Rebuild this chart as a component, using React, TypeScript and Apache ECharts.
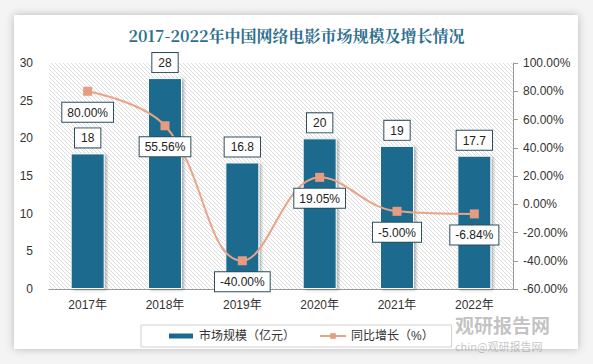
import React, { useEffect, useRef } from "react";
import * as echarts from "echarts";

const years = ["2017年", "2018年", "2019年", "2020年", "2021年", "2022年"];
const marketSize = [18, 28, 16.8, 20, 19, 17.7];
const growth = [80.0, 55.56, -40.0, 19.05, -5.0, -6.84];
const titleText = "2017-2022年中国网络电影市场规模及增长情况";
const seriesNames = ["市场规模（亿元）", "同比增长（%）"];

function makeHatch(): HTMLCanvasElement {
  const c = document.createElement("canvas");
  const s = 4;
  c.width = s;
  c.height = s;
  const ctx = c.getContext("2d")!;
  ctx.fillStyle = "#ffffff";
  ctx.fillRect(0, 0, s, s);
  ctx.strokeStyle = "#dcdcdc";
  ctx.lineWidth = 1;
  ctx.beginPath();
  ctx.moveTo(0, 0);
  ctx.lineTo(s, s);
  ctx.moveTo(-s / 2, s / 2);
  ctx.lineTo(s / 2, s * 1.5);
  ctx.moveTo(s / 2, -s / 2);
  ctx.lineTo(s * 1.5, s / 2);
  ctx.stroke();
  return c;
}

export default function App() {
  const ref = useRef<HTMLDivElement>(null);
  useEffect(() => {
    if (!ref.current) return;
    const chart = echarts.init(ref.current, null, { renderer: "svg" });
    const font = "'Liberation Sans', 'Noto Sans CJK SC', sans-serif";
    chart.setOption({
      animation: false,
      backgroundColor: "#f4f4f4",
      graphic: [
        {
          type: "rect",
          shape: { x: 14, y: 15, width: 564, height: 334 },
          style: { fill: "#ffffff", shadowBlur: 8, shadowColor: "rgba(0,0,0,0.25)" },
          z: -10,
        },
        {
          type: "text",
          left: 455,
          top: 315,
          style: { text: "观研报告网", fill: "rgba(120,120,120,0.45)", font: "bold 19px 'Noto Sans CJK SC'" },
          z: 100,
        },
        {
          type: "text",
          left: 455,
          top: 340,
          style: { text: "chin@观研报告网", fill: "rgba(140,140,140,0.5)", font: "11px 'Noto Sans CJK SC'" },
          z: 100,
        },
      ],
      title: {
        text: titleText,
        left: "center",
        top: 22,
        textStyle: {
          color: "#2E6F8E",
          fontSize: 16,
          fontWeight: "bold",
          fontFamily: "'Noto Serif CJK SC', 'Noto Sans CJK SC', serif",
        },
      },
      grid: {
        left: 49,
        right: 80,
        top: 63,
        bottom: 75,
        show: true,
        borderWidth: 0,
        backgroundColor: { image: makeHatch(), repeat: "repeat" },
      },
      legend: {
        bottom: 17,
        left: 141,
        itemGap: 24,
        borderColor: "#d0d0d0",
        borderWidth: 1,
        padding: [5, 18, 5, 26],
        textStyle: { fontFamily: font, fontSize: 12, color: "#333" },
        data: [
          { name: seriesNames[0], icon: "rect", itemStyle: { color: "#1B6A8D" } },
          { name: seriesNames[1] },
        ],
        itemWidth: 26,
        itemHeight: 7,
      },
      xAxis: {
        type: "category",
        data: years,
        axisLine: { lineStyle: { color: "#999" } },
        axisTick: { show: false },
        axisLabel: { color: "#333", fontFamily: font, fontSize: 12, margin: 10 },
      },
      yAxis: [
        {
          type: "value",
          min: 0,
          max: 30,
          interval: 5,
          splitLine: { show: false },
          axisLine: { show: false },
          axisTick: { show: false },
          axisLabel: { color: "#333", fontFamily: font, fontSize: 12, margin: 16 },
        },
        {
          type: "value",
          min: -60,
          max: 100,
          interval: 20,
          splitLine: { show: false },
          axisLine: { show: true, lineStyle: { color: "#999" } },
          axisTick: { show: true, inside: false, length: 5, lineStyle: { color: "#999" } },
          axisLabel: {
            color: "#333",
            fontFamily: font,
            fontSize: 12,
            margin: 10,
            formatter: (v: number) => v.toFixed(2) + "%",
          },
        },
      ],
      series: [
        {
          name: seriesNames[0],
          type: "bar",
          data: marketSize,
          barWidth: 34,
          itemStyle: {
            color: "#1B6A8D",
            borderColor: "#ffffff",
            borderWidth: 1,
            shadowColor: "rgba(0,0,0,0.3)",
            shadowBlur: 3,
            shadowOffsetX: 2,
            shadowOffsetY: 1,
          },
          label: {
            show: true,
            position: "top",
            distance: 6,
            color: "#222",
            fontFamily: font,
            fontSize: 12,
            backgroundColor: "#fff",
            borderColor: "#2b4f5f",
            borderWidth: 1,
            padding: [4, 6, 3, 6],
          },
        },
        {
          name: seriesNames[1],
          type: "line",
          yAxisIndex: 1,
          smooth: 0.4,
          data: growth,
          symbol: "rect",
          symbolSize: 9,
          lineStyle: { color: "#E8A488", width: 2 },
          itemStyle: { color: "#E69C80" },
          label: {
            show: true,
            position: "bottom",
            distance: 7,
            color: "#222",
            fontFamily: font,
            fontSize: 12,
            backgroundColor: "#fff",
            borderColor: "#2b4f5f",
            borderWidth: 1,
            padding: [4, 5, 3, 5],
            formatter: (p: any) => Number(p.value).toFixed(2) + "%",
          },
          z: 5,
        },
      ],
    });
    return () => chart.dispose();
  }, []);
  return (
    <div
      ref={ref}
      style={{ position: "absolute", left: 0, top: 0, width: 593, height: 364 }}
    />
  );
}
